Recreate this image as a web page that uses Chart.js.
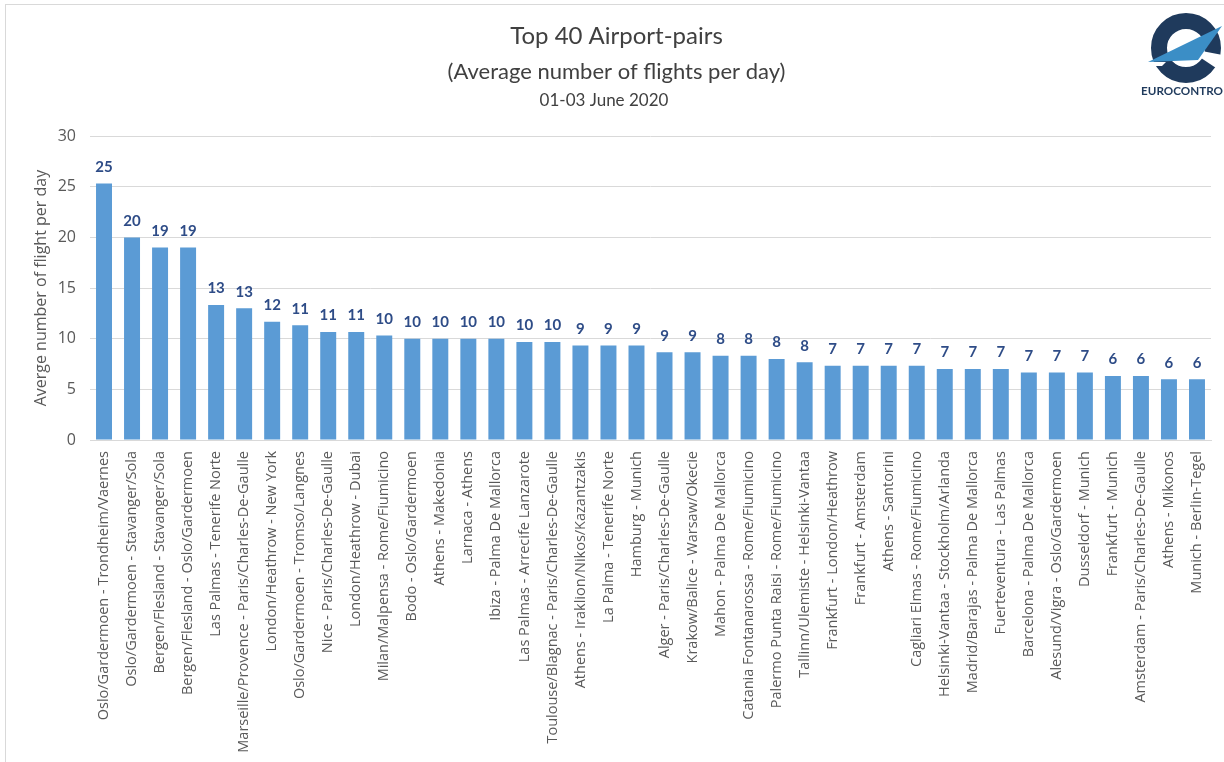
<!DOCTYPE html>
<html>
<head>
<meta charset="utf-8">
<script src="https://cdn.jsdelivr.net/npm/chart.js@4.4.0/dist/chart.umd.min.js"></script>
<style>
  body { margin: 0; background: #fff; }
  #wrap { position: relative; width: 1224px; height: 762px; overflow: hidden; }
  #frame { position: absolute; left: 5px; top: 4px; right: 0; bottom: 0;
           border-left: 1px solid #d9d9d9; border-top: 1px solid #d9d9d9; }
  #logo { position: absolute; left: 1136px; top: 6px; }
  canvas { position: absolute; left: 0; top: 0; }
</style>
</head>
<body>
<div id="wrap">
  <div id="frame"></div>
  <canvas id="chart" width="1224" height="762"></canvas>
  <svg id="logo" width="88" height="96" viewBox="0 0 88 96">
    <circle cx="50" cy="42" r="27" fill="none" stroke="#1f3a5c" stroke-width="16"/>
    <polygon points="50,42 92,50 92,70" fill="#fff"/>
    <polygon points="12,56 86,20 62,54" fill="#3b8ec6"/>
    <polygon points="12,56 30,56 26,60 8,60" fill="#fff"/>
    <text x="5" y="89" font-family="Lato" font-weight="bold" font-size="12" fill="#1f3a5c"
          textLength="82" lengthAdjust="spacingAndGlyphs">EUROCONTRO</text>
  </svg>
</div>
<script>
// ── Data ──────────────────────────────────────────────────────────────────────
const pairs = [
  'Oslo/Gardermoen - Trondheim/Vaernes',
  'Oslo/Gardermoen - Stavanger/Sola',
  'Bergen/Flesland - Stavanger/Sola',
  'Bergen/Flesland - Oslo/Gardermoen',
  'Las Palmas - Tenerife Norte',
  'Marseille/Provence - Paris/Charles-De-Gaulle',
  'London/Heathrow - New York',
  'Oslo/Gardermoen - Tromso/Langnes',
  'Nice - Paris/Charles-De-Gaulle',
  'London/Heathrow - Dubai',
  'Milan/Malpensa - Rome/Fiumicino',
  'Bodo - Oslo/Gardermoen',
  'Athens - Makedonia',
  'Larnaca - Athens',
  'Ibiza - Palma De Mallorca',
  'Las Palmas - Arrecife Lanzarote',
  'Toulouse/Blagnac - Paris/Charles-De-Gaulle',
  'Athens - Iraklion/Nikos/Kazantzakis',
  'La Palma - Tenerife Norte',
  'Hamburg - Munich',
  'Alger - Paris/Charles-De-Gaulle',
  'Krakow/Balice - Warsaw/Okecie',
  'Mahon - Palma De Mallorca',
  'Catania Fontanarossa - Rome/Fiumicino',
  'Palermo Punta Raisi - Rome/Fiumicino',
  'Tallinn/Ulemiste - Helsinki-Vantaa',
  'Frankfurt - London/Heathrow',
  'Frankfurt - Amsterdam',
  'Athens - Santorini',
  'Cagliari Elmas - Rome/Fiumicino',
  'Helsinki-Vantaa - Stockholm/Arlanda',
  'Madrid/Barajas - Palma De Mallorca',
  'Fuerteventura - Las Palmas',
  'Barcelona - Palma De Mallorca',
  'Alesund/Vigra - Oslo/Gardermoen',
  'Dusseldorf - Munich',
  'Frankfurt - Munich',
  'Amsterdam - Paris/Charles-De-Gaulle',
  'Athens - Mikonos',
  'Munich - Berlin-Tegel',
];

// average flights per day (3-day window)
const flightsPerDay = [
  25.33, 20.00, 19.00, 19.00, 13.33, 13.00, 11.67, 11.33, 10.67, 10.67,
  10.33, 10.00, 10.00, 10.00, 10.00, 9.67, 9.67, 9.33, 9.33, 9.33,
  8.67, 8.67, 8.33, 8.33, 8.00, 7.67, 7.33, 7.33, 7.33, 7.33,
  7.00, 7.00, 7.00, 6.67, 6.67, 6.67, 6.33, 6.33, 6.00, 6.00,
];

const yMin = 0, yMax = 30, yStep = 5;

const titleLine    = 'Top 40 Airport-pairs';
const subtitleLine = '(Average number of flights per day)';
const dateLine     = '01-03 June 2020';
const yTitle       = 'Averge number of flight per day';

// ── Plugins ───────────────────────────────────────────────────────────────────
const valueLabels = {
  id: 'valueLabels',
  afterDatasetsDraw(chart) {
    const { ctx } = chart;
    const meta = chart.getDatasetMeta(0);
    ctx.save();
    ctx.font = 'bold 15px Lato';
    ctx.fillStyle = '#2e4c87';
    ctx.textAlign = 'center';
    ctx.textBaseline = 'bottom';
    meta.data.forEach((bar, i) => {
      ctx.fillText(Math.round(flightsPerDay[i]), bar.x, bar.y - 9);
    });
    ctx.restore();
  },
};

const dateTitle = {
  id: 'dateTitle',
  afterDraw(chart) {
    const { ctx } = chart;
    ctx.save();
    ctx.font = '17px Lato';
    ctx.fillStyle = '#404040';
    ctx.textAlign = 'center';
    ctx.textBaseline = 'middle';
    ctx.fillText(dateLine, chart.width / 2 - 8, 101);
    ctx.restore();
  },
};

// ── Chart ─────────────────────────────────────────────────────────────────────
const ctx = document.getElementById('chart').getContext('2d');
new Chart(ctx, {
  type: 'bar',
  data: {
    labels: pairs,
    datasets: [{
      data: flightsPerDay,
      backgroundColor: '#5b9bd5',
      borderWidth: 0,
      categoryPercentage: 1,
      barPercentage: 0.57,
    }],
  },
  plugins: [valueLabels, dateTitle],
  options: {
    responsive: false,
    animation: false,
    layout: { padding: { left: 22, right: 13, top: 0, bottom: 0 } },
    plugins: {
      legend: { display: false },
      tooltip: { enabled: false },
      title: {
        display: true,
        text: titleLine,
        color: '#404040',
        font: { family: 'Lato', size: 24, weight: 'normal', lineHeight: 1.2 },
        padding: { top: 22, bottom: 4 },
      },
      subtitle: {
        display: true,
        text: subtitleLine,
        color: '#404040',
        font: { family: 'Lato', size: 22, weight: 'normal', lineHeight: 1.2 },
        padding: { top: 4, bottom: 51 },
      },
    },
    scales: {
      x: {
        grid: { display: false },
        border: { color: '#d9d9d9' },
        ticks: {
          color: '#595959',
          font: { family: 'Open Sans', size: 14.5 },
          autoSkip: false,
          minRotation: 90,
          maxRotation: 90,
        },
        afterFit(scale) { scale.height = 322; },
      },
      y: {
        min: yMin,
        max: yMax,
        grid: { color: '#d9d9d9', drawTicks: false },
        border: { display: false },
        ticks: {
          stepSize: yStep,
          color: '#595959',
          font: { family: 'Open Sans', size: 16 },
          padding: 14,
        },
        title: {
          display: true,
          text: yTitle,
          color: '#595959',
          font: { family: 'Open Sans', size: 16 },
          padding: { top: 10, bottom: 0 },
        },
        afterFit(scale) { scale.width = 68; },
      },
    },
  },
});
</script>
</body>
</html>
